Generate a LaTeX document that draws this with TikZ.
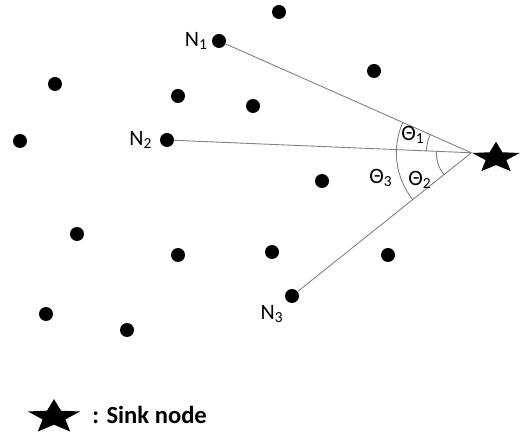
\documentclass[tikz,border=0pt]{standalone}
\usepackage{fontspec}
\setmainfont{Carlito}
\usetikzlibrary{shapes.geometric,positioning,calc}

\begin{document}
\begin{tikzpicture}[
    x=0.02cm, y=0.02cm,
    dot/.style={circle, fill=black, inner sep=0pt, minimum size=0.28cm},
    sink/.style={star, star points=5, star point ratio=2.3, fill=black, inner sep=0pt, yscale=0.65, transform shape},
    link/.style={draw=gray, line width=0.5pt},
    lbl/.style={inner sep=1pt, font=\fontsize{12.5}{14}\selectfont}
]
\useasboundingbox (0,0) rectangle (526,435);

\node[sink, minimum size=1.0cm] (sink) at (496,277) {};
\coordinate (apex) at (sink.outer point 2);

\node[dot] (n1) at (219,394) {};
\node[dot] (n2) at (167,295) {};
\node[dot] (n3) at (292,139) {};

\foreach \px/\py [count=\i] in {279/423, 374/364, 55/351, 178/339, 253/329, 20/294,
    322/254, 77/201, 178/180, 272/183, 388/180, 46/121, 127/105}
    \node[dot] (d\i) at (\px,\py) {};

\node[lbl, left=1pt of n1] (n1_lbl) {N\textsubscript{1}};
\node[lbl, left=3pt of n2] (n2_lbl) {N\textsubscript{2}};
\node[lbl] (n3_lbl) at (272,121) {N\textsubscript{3}};

\draw[link] (n1) -- (apex);
\draw[link] (n2) -- (apex);
\draw[link] (n3) -- (apex);

\draw[link] let \p1=($(n1)-(apex)$), \p2=($(n2)-(apex)$),
    \n1={atan2(\y1,\x1)}, \n2={atan2(\y2,\x2)} in
    ($(apex)+(\n1:0.9cm)$) arc[start angle=\n1, end angle=\n2, radius=0.9cm];
\draw[link] let \p2=($(n2)-(apex)$), \p3=($(n3)-(apex)$),
    \n2={atan2(\y2,\x2)}, \n3={atan2(\y3,\x3)+360} in
    ($(apex)+(\n2:0.7cm)$) arc[start angle=\n2, end angle=\n3, radius=0.7cm];
\draw[link] let \p1=($(n1)-(apex)$), \p3=($(n3)-(apex)$),
    \n1={atan2(\y1,\x1)}, \n3={atan2(\y3,\x3)+360} in
    ($(apex)+(\n1:1.5cm)$) arc[start angle=\n1, end angle=\n3, radius=1.5cm];

\node[lbl] (theta1) at (413,300) {Θ\textsubscript{1}};
\node[lbl] (theta2) at (420,255) {Θ\textsubscript{2}};
\node[lbl] (theta3) at (381,257) {Θ\textsubscript{3}};

\node[sink, minimum size=1.1cm] (legend_star) at (54,18) {};
\node[anchor=west, inner sep=0pt, font=\fontsize{14}{16}\bfseries\selectfont] (legend_txt) at (92,20) {: Sink node};

\end{tikzpicture}
\end{document}
